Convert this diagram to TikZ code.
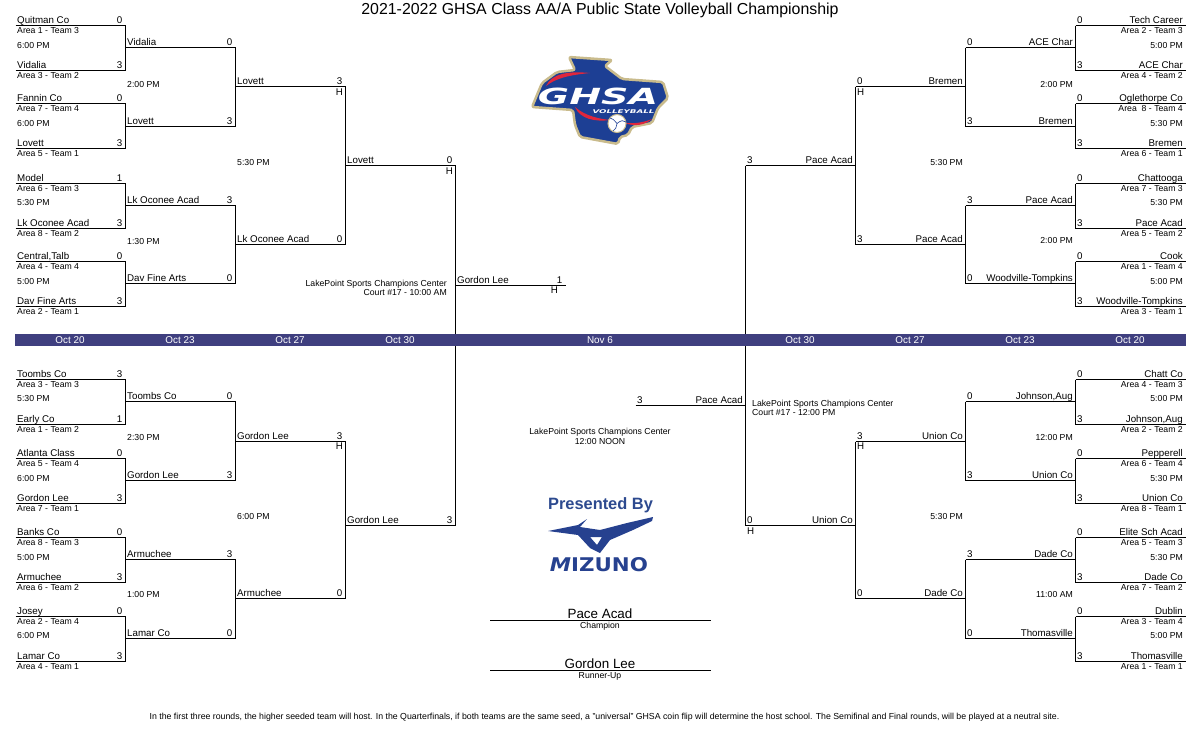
\documentclass[tikz,border=0pt]{standalone}
\usepackage{fontspec}
\usepackage{graphicx}
\setmainfont{Liberation Sans}
\newfontfamily\logofont[BoldFont={DejaVu Sans Bold},BoldItalicFont={DejaVu Sans Bold Oblique}]{DejaVu Sans}
\usetikzlibrary{positioning}
\definecolor{bandblue}{HTML}{3F3F7F}
\definecolor{ghsablue}{HTML}{1D3F94}
\definecolor{ghsared}{HTML}{E0263C}
\definecolor{ghsatan}{HTML}{C9BB8C}
\definecolor{mizblue}{HTML}{26418F}
\definecolor{byblue}{HTML}{2D4A8F}
% one line of the bracket: name, left x, y, team, score
\newcommand{\slotL}[5]{
\coordinate (#1) at (#2+.5,#3+.5);
\coordinate (#1e) at (#2+110.5,#3+.5);
\node (#1t) [team, anchor=base west] at (#2+2,#3-1.5) {#4};
\node (#1s) [team, anchor=base east] at (#2+107.5,#3-1.5) {#5};
\draw [wire] (#1) -- (#1e);
}
\newcommand{\slotR}[5]{
\coordinate (#1) at (#2+.5,#3+.5);
\coordinate (#1e) at (#2+110.5,#3+.5);
\node (#1t) [team, anchor=base east] at (#2+108,#3-1.5) {#4};
\node (#1s) [team, anchor=base west] at (#2+2,#3-1.5) {#5};
\draw [wire] (#1) -- (#1e);
}
% first round lines also carry the area seed
\newcommand{\seedL}[5]{
\slotL{#1}{15}{#2}{#3}{#4}
\node (#1a) [small, anchor=base west] at (17,#2+8) {#5};
}
\newcommand{\seedR}[5]{
\slotR{#1}{1075}{#2}{#3}{#4}
\node (#1a) [small, anchor=base east] at (1183,#2+8) {#5};
}
\begin{document}
\begin{tikzpicture}[x=1pt,y=-1pt]
\tikzstyle{team} = [inner sep=0pt, font=\fontsize{9.75}{10}\selectfont]
\tikzstyle{small} = [inner sep=0pt, font=\fontsize{8.7}{9}\selectfont]
\tikzstyle{big} = [inner sep=0pt, font=\fontsize{13.4}{14}\selectfont]
\tikzstyle{date} = [inner sep=0pt, text=white, font=\fontsize{9.9}{10}\selectfont]
\tikzstyle{wire} = [line width=1pt, line cap=square, black]
\useasboundingbox (0,0) rectangle (1200,750);

\node (title) [inner sep=0pt, anchor=base, font=\fontsize{15.9}{17}\selectfont] at (600,14.5) {2021-2022 GHSA Class AA/A Public State Volleyball Championship};

% top left
\seedL{tla1}{25}{Quitman Co}{0}{Area 1 - Team 3}
\seedL{tla2}{70}{Vidalia}{3}{Area 3 - Team 2}
\seedL{tla3}{103}{Fannin Co}{0}{Area 7 - Team 4}
\seedL{tla4}{148}{Lovett}{3}{Area 5 - Team 1}
\seedL{tla5}{183}{Model}{1}{Area 6 - Team 3}
\seedL{tla6}{228}{Lk Oconee Acad}{3}{Area 8 - Team 2}
\seedL{tla7}{261}{Central,Talb}{0}{Area 4 - Team 4}
\seedL{tla8}{306}{Dav Fine Arts}{3}{Area 2 - Team 1}
\slotL{tlb1}{125}{47}{Vidalia}{0}
\slotL{tlb2}{125}{126}{Lovett}{3}
\slotL{tlb3}{125}{205}{Lk Oconee Acad}{3}
\slotL{tlb4}{125}{283}{Dav Fine Arts}{0}
\slotL{tlc1}{235}{86}{Lovett}{3}
\slotL{tlc2}{235}{244}{Lk Oconee Acad}{0}
\slotL{tld1}{345}{165}{Lovett}{0}
\slotL{final1}{455}{285}{Gordon Lee}{1}

% bottom left
\seedL{bla1}{379}{Toombs Co}{3}{Area 3 - Team 3}
\seedL{bla2}{424}{Early Co}{1}{Area 1 - Team 2}
\seedL{bla3}{458}{Atlanta Class}{0}{Area 5 - Team 4}
\seedL{bla4}{503}{Gordon Lee}{3}{Area 7 - Team 1}
\seedL{bla5}{537}{Banks Co}{0}{Area 8 - Team 3}
\seedL{bla6}{582}{Armuchee}{3}{Area 6 - Team 2}
\seedL{bla7}{616}{Josey}{0}{Area 2 - Team 4}
\seedL{bla8}{661}{Lamar Co}{3}{Area 4 - Team 1}
\slotL{blb1}{125}{401}{Toombs Co}{0}
\slotL{blb2}{125}{480}{Gordon Lee}{3}
\slotL{blb3}{125}{559}{Armuchee}{3}
\slotL{blb4}{125}{638}{Lamar Co}{0}
\slotL{blc1}{235}{441}{Gordon Lee}{3}
\slotL{blc2}{235}{598}{Armuchee}{0}
\slotL{bld1}{345}{525}{Gordon Lee}{3}

% top right
\seedR{tra1}{25}{Tech Career}{0}{Area 2 - Team 3}
\seedR{tra2}{70}{ACE Char}{3}{Area 4 - Team 2}
\seedR{tra3}{103}{Oglethorpe Co}{0}{Area \ 8 - Team 4}
\seedR{tra4}{148}{Bremen}{3}{Area 6 - Team 1}
\seedR{tra5}{183}{Chattooga}{0}{Area 7 - Team 3}
\seedR{tra6}{228}{Pace Acad}{3}{Area 5 - Team 2}
\seedR{tra7}{261}{Cook}{0}{Area 1 - Team 4}
\seedR{tra8}{306}{Woodville-Tompkins}{3}{Area 3 - Team 1}
\slotR{trb1}{965}{47}{ACE Char}{0}
\slotR{trb2}{965}{126}{Bremen}{3}
\slotR{trb3}{965}{205}{Pace Acad}{3}
\slotR{trb4}{965}{283}{Woodville-Tompkins}{0}
\slotR{trc1}{855}{86}{Bremen}{0}
\slotR{trc2}{855}{244}{Pace Acad}{3}
\slotR{trd1}{745}{165}{Pace Acad}{3}
\slotR{final2}{635}{405}{Pace Acad}{3}

% bottom right
\seedR{bra1}{379}{Chatt Co}{0}{Area 4 - Team 3}
\seedR{bra2}{424}{Johnson,Aug}{3}{Area 2 - Team 2}
\seedR{bra3}{458}{Pepperell}{0}{Area 6 - Team 4}
\seedR{bra4}{503}{Union Co}{3}{Area 8 - Team 1}
\seedR{bra5}{537}{Elite Sch Acad}{0}{Area 5 - Team 3}
\seedR{bra6}{582}{Dade Co}{3}{Area 7 - Team 2}
\seedR{bra7}{616}{Dublin}{0}{Area 3 - Team 4}
\seedR{bra8}{661}{Thomasville}{3}{Area 1 - Team 1}
\slotR{brb1}{965}{401}{Johnson,Aug}{0}
\slotR{brb2}{965}{480}{Union Co}{3}
\slotR{brb3}{965}{559}{Dade Co}{3}
\slotR{brb4}{965}{638}{Thomasville}{0}
\slotR{brc1}{855}{441}{Union Co}{3}
\slotR{brc2}{855}{598}{Dade Co}{0}
\slotR{brd1}{745}{525}{Union Co}{0}

% brackets
\foreach \a/\b in {tla1/tla2,tla3/tla4,tla5/tla6,tla7/tla8,tlb1/tlb2,tlb3/tlb4,tlc1/tlc2,
  bla1/bla2,bla3/bla4,bla5/bla6,bla7/bla8,blb1/blb2,blb3/blb4,blc1/blc2,tld1/bld1}
  \draw [wire] (\a e) -- (\b e);
\foreach \a/\b in {tra1/tra2,tra3/tra4,tra5/tra6,tra7/tra8,trb1/trb2,trb3/trb4,trc1/trc2,
  bra1/bra2,bra3/bra4,bra5/bra6,bra7/bra8,brb1/brb2,brb3/brb4,brc1/brc2,trd1/brd1}
  \draw [wire] (\a) -- (\b);

% host marks
\node (hosta) [team, anchor=base east] at (343,95) {H};
\node (hostb) [team, anchor=base east] at (453,174) {H};
\node (hostc) [team, anchor=base east] at (343,449) {H};
\node (hostd) [team, anchor=base] at (554.5,293) {H};
\node (hoste) [team, anchor=base west] at (857,95) {H};
\node (hostf) [team, anchor=base west] at (857,449) {H};
\node (hostg) [team, anchor=base west] at (747,534) {H};

% game times
\foreach \y/\t [count=\i] in {48/6:00 PM,126/6:00 PM,205/5:30 PM,284/5:00 PM,401/5:30 PM,481/6:00 PM,560/5:00 PM,638/6:00 PM}
  \node (timel\i) [small, anchor=base west] at (17,\y) {\t};
\foreach \y/\t [count=\i] in {87/2:00 PM,244/1:30 PM,440/2:30 PM,597/1:00 PM}
  \node (timem\i) [small, anchor=base west] at (127,\y) {\t};
\foreach \y/\t [count=\i] in {165/5:30 PM,519/6:00 PM}
  \node (timen\i) [small, anchor=base west] at (237,\y) {\t};
\foreach \y/\t [count=\i] in {48/5:00 PM,126/5:30 PM,205/5:30 PM,284/5:00 PM,401/5:00 PM,481/5:30 PM,560/5:30 PM,638/5:00 PM}
  \node (timer\i) [small, anchor=base east] at (1183,\y) {\t};
\foreach \y/\t [count=\i] in {87/2:00 PM,243/2:00 PM,440/12:00 PM,597/11:00 AM}
  \node (times\i) [small, anchor=base east] at (1073,\y) {\t};
\foreach \y/\t [count=\i] in {165/5:30 PM,519/5:30 PM}
  \node (timet\i) [small, anchor=base east] at (963,\y) {\t};

% date band
\fill [bandblue] (15,334) rectangle (1186,346);
\foreach \x/\d [count=\i] in {70/Oct 20,180/Oct 23,290/Oct 27,400/Oct 30,600/Nov 6,800/Oct 30,910/Oct 27,1020/Oct 23,1130/Oct 20}
  \node (date\i) [date] at (\x,340) {\d};

% sites
\node (sitea) [small, anchor=base east] at (447,286) {LakePoint Sports Champions Center};
\node (siteb) [small, anchor=base east] at (447,295.5) {Court \#17 - 10:00 AM};
\node (sitec) [small, anchor=base west] at (752,406) {LakePoint Sports Champions Center};
\node (sited) [small, anchor=base west] at (752,415.5) {Court \#17 - 12:00 PM};
\node (sitee) [small, anchor=base] at (600,434) {LakePoint Sports Champions Center};
\node (sitef) [small, anchor=base] at (600,444) {12:00 NOON};

% champion and runner-up
\coordinate (champa) at (490,620.5);
\coordinate (champb) at (711,620.5);
\coordinate (runa) at (490,670.5);
\coordinate (runb) at (711,670.5);
\draw [wire] (champa) -- (champb);
\draw [wire] (runa) -- (runb);
\node (champ) [big, anchor=base] at (600,618) {Pace Acad};
\node (champl) [small, anchor=base] at (600,628) {Champion};
\node (run) [big, anchor=base] at (600,668) {Gordon Lee};
\node (runl) [small, anchor=base] at (600,678) {Runner-Up};

\node (note) [inner sep=0pt, anchor=base, font=\fontsize{8.76}{9}\selectfont] at (604.5,719) {In the first three rounds, the higher seeded team will host. In the Quarterfinals, if both teams are the same seed, a "universal" GHSA coin flip will determine the host school. The Semifinal and Final rounds, will be played at a neutral site.};

% ghsa logo
\draw [fill=ghsablue, draw=ghsatan, line width=2.5pt, line join=round, rounded corners=2pt]
  (569,57) -- (612,60) -- (605,66) -- (622,79) -- (663,82) -- (668,98) -- (658,108) -- (652,123)
  -- (632,127) -- (628,135) -- (620,137) -- (618,144) -- (580,137) -- (575,125) -- (573,110)
  -- (532,107) -- (542,83) -- (557,72) -- (575,70) -- cycle;
\fill [ghsared] (546,86) .. controls (552,73) and (570,71) .. (590,73) .. controls (570,75) and (556,78) .. (546,86);
\fill [ghsared] (575,107) .. controls (585,116) and (600,119) .. (610,120) .. controls (595,122) and (580,119) .. (575,107);
\fill [ghsared] (625,123) .. controls (635,124) and (645,122) .. (652,119) .. controls (645,125) and (635,127) .. (625,123);
\node (ghsa) [inner sep=0pt, text=white, anchor=center] at (598,96)
  {\resizebox{120pt}{16.5pt}{\logofont\bfseries\itshape GHSA}};
\node (vball) [inner sep=0pt, text=white, anchor=center] at (623.5,111.5)
  {\resizebox{62pt}{3.8pt}{\logofont\bfseries\itshape VOLLEYBALL}};
\draw [fill=white, draw=ghsatan, line width=1pt] (617,123.5) circle (9);
\draw [ghsablue, line width=0.6pt] (617,123.5) .. controls (614,120) and (612,118) .. (610,118)
  (617,123.5) .. controls (621,120) and (624,120) .. (626,122)
  (617,123.5) .. controls (616,127) and (616,130) .. (613,131);

% presented by mizuno
\node (presented) [inner sep=0pt, text=byblue, font=\bfseries\fontsize{16.4}{17}\selectfont] at (600.5,505.5) {Presented By};
\fill [mizblue, even odd rule] (548,531) -- (578,525) -- (587,519) -- (580,527) -- (600,530) -- (627,523)
  -- (653,517) -- (652,521) -- (633,530) -- (610,540) -- (600,553) -- (590,548) -- (578,535) -- (563,533) -- cycle
  (590,537) -- (602,537) -- (597,545) -- cycle;
\node (mizuno) [inner sep=0pt, text=mizblue, anchor=center] at (599,565)
  {\resizebox{98pt}{14pt}{\logofont\bfseries{\itshape M}IZUNO}};
\end{tikzpicture}
\end{document}
